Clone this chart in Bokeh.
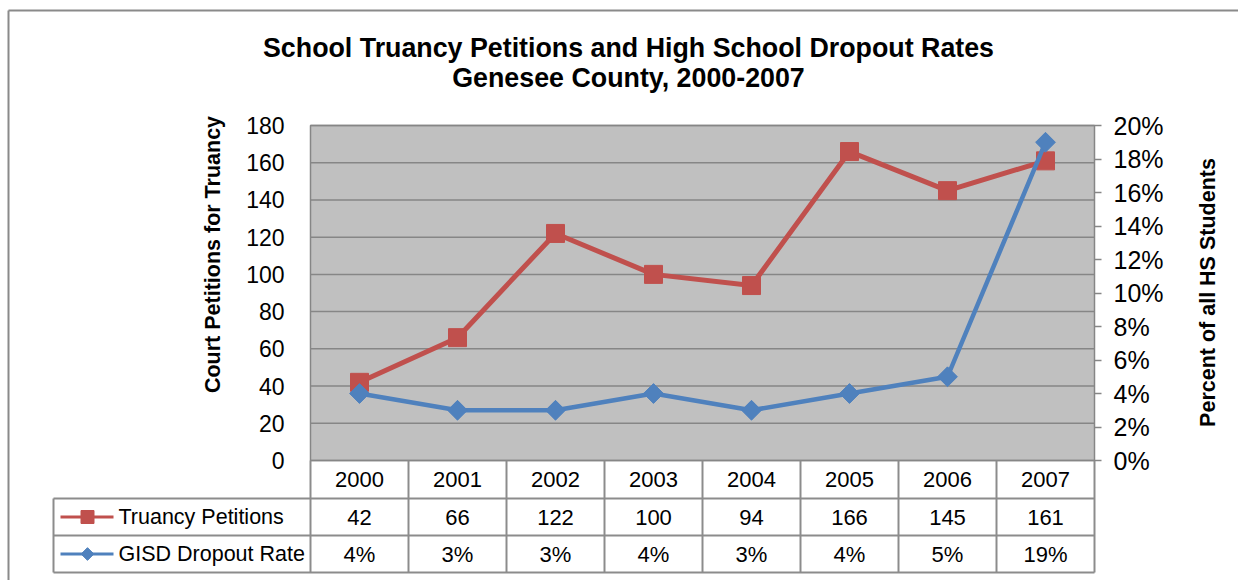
import math
from bokeh.plotting import figure
from bokeh.models import (Range1d, LinearAxis, FixedTicker,
                          NumeralTickFormatter, ColumnDataSource)
from bokeh.embed import file_html
from bokeh.resources import INLINE
from bokeh.core.properties import value

# ---------------- data ----------------
years = ["2000", "2001", "2002", "2003", "2004", "2005", "2006", "2007"]
truancy = [42, 66, 122, 100, 94, 166, 145, 161]
dropout = [0.04, 0.03, 0.03, 0.04, 0.03, 0.04, 0.05, 0.19]
left_ticks = [0, 20, 40, 60, 80, 100, 120, 140, 160, 180]
right_ticks = [0.0, 0.02, 0.04, 0.06, 0.08, 0.10, 0.12, 0.14, 0.16, 0.18, 0.20]
series_names = ["Truancy Petitions", "GISD Dropout Rate"]
title_lines = ["School Truancy Petitions and High School Dropout Rates",
               "Genesee County, 2000-2007"]
left_label = "Court Petitions for Truancy"
right_label = "Percent of all HS Students"

# ---------------- layout / style ----------------
RED = "#C0504D"
BLUE = "#4F81BD"
GRID = "#868686"
TBL = "#8c8c8c"
PLOT_BG = "#C0C0C0"
FONT = "Liberation Sans"
W, H = 1238, 580

n = len(years)
Y_MAX = left_ticks[-1]
PCT_MAX = right_ticks[-1]
COLW = 98.0            # pixel width of one category column
X0 = 310.0             # pixel x of the plot area's left edge
Y0 = 460.0             # pixel y of the value axis zero
YS = 335.0 / Y_MAX     # pixels per left-axis unit


def px(x):
    return (x - X0) / COLW


def py(y):
    return (Y0 - y) / YS


p = figure(width=W, height=H,
           x_range=Range1d(px(0), px(W)), y_range=Range1d(py(H), py(0)),
           x_axis_location=None, y_axis_location="left",
           output_backend="svg", toolbar_location=None,
           min_border_left=0, min_border_right=0,
           min_border_top=0, min_border_bottom=0,
           background_fill_color="white", border_fill_color="white",
           outline_line_color=None)
p.grid.visible = False

# outer chart border (top and left visible)
p.segment(x0=[px(8), px(8)], y0=[py(10), py(10)], x1=[px(W), px(8)], y1=[py(10), py(H)],
          line_color="#8a8a8a", line_width=2)

# plot area background and gridlines
p.quad(left=[0], right=[n], bottom=[0], top=[Y_MAX], fill_color=PLOT_BG,
       line_color=GRID, line_width=1.5)
p.segment(x0=[0] * len(left_ticks), y0=left_ticks, x1=[n] * len(left_ticks), y1=left_ticks,
          line_color=GRID, line_width=1.5)

# left axis
ya = p.yaxis[0]
ya.fixed_location = 0
ya.ticker = FixedTicker(ticks=left_ticks)
ya.axis_line_color = None
ya.major_tick_out = 0
ya.major_tick_in = 0
ya.minor_tick_out = 0
ya.minor_tick_in = 0
ya.major_label_standoff = 26
ya.major_label_text_font = FONT
ya.major_label_text_font_size = "23px"
ya.major_label_text_color = "black"

# right axis (percent)
scale = PCT_MAX / Y_MAX
p.extra_y_ranges = {"pct": Range1d(py(H) * scale, py(0) * scale)}
ra = LinearAxis(y_range_name="pct", ticker=FixedTicker(ticks=right_ticks),
                formatter=NumeralTickFormatter(format="0%"), fixed_location=n)
ra.axis_line_color = None
ra.major_tick_out = 7
ra.major_tick_in = 0
ra.major_tick_line_color = GRID
ra.major_tick_line_width = 1.5
ra.minor_tick_out = 0
ra.minor_tick_in = 0
ra.major_label_standoff = 12
ra.major_label_text_font = FONT
ra.major_label_text_font_size = "25px"
ra.major_label_text_color = "black"
p.add_layout(ra, "right")

# titles and axis titles
p.text(x=[px(628)] * 2, y=[py(47), py(77)], text=title_lines,
       text_align="center", text_baseline="middle", text_font=value(FONT),
       text_font_style="bold", text_font_size="26.8px", text_color="black")
p.text(x=[px(212), px(1207)], y=[py(254), py(292)], text=[left_label, right_label],
       angle=math.pi / 2, text_align="center", text_baseline="middle",
       text_font=value(FONT), text_font_style="bold", text_font_size="21.5px",
       text_color="black")

# series
centers = [i + 0.5 for i in range(n)]
src = ColumnDataSource(dict(x=centers, truancy=truancy))
p.line("x", "truancy", source=src, line_color=RED, line_width=5)
p.scatter("x", "truancy", source=src, marker="square", size=18,
          fill_color=RED, line_color=RED)
src2 = ColumnDataSource(dict(x=centers, dropout=dropout))
p.line("x", "dropout", source=src2, y_range_name="pct",
       line_color=BLUE, line_width=4.5)
p.scatter("x", "dropout", source=src2, y_range_name="pct", marker="square",
          angle=math.pi / 4, size=14, fill_color=BLUE, line_color=BLUE)

# ---------------- data table ----------------
rows_top = [py(460), py(498), py(535), py(572)]
leg_left = px(53)
hx0 = [leg_left, leg_left, leg_left]
hx1 = [n, n, n]
hy = rows_top[1:]
vx = list(range(n + 1)) + [leg_left]
vy0 = [rows_top[3]] * (n + 2)
vy1 = [rows_top[0]] * (n + 1) + [rows_top[1]]
p.segment(x0=hx0 + vx, y0=hy + vy0, x1=hx1 + vx, y1=hy + vy1,
          line_color=TBL, line_width=2)

row_y = [py(479), py(516.5), py(553.5)]
row_texts = [years, [str(v) for v in truancy], [f"{round(v * 100)}%" for v in dropout]]
for r, texts in enumerate(row_texts):
    p.text(x=centers, y=[row_y[r]] * n, text=texts, text_align="center",
           text_baseline="middle", text_font=value(FONT),
           text_font_size="22px", text_color="black")

# legend keys inside the table
p.segment(x0=[px(60)] * 2, y0=row_y[1:], x1=[px(113)] * 2, y1=row_y[1:],
          line_color=[RED, BLUE], line_width=3)
p.scatter(x=[px(87)], y=[row_y[1]], marker="square", size=13,
          fill_color=RED, line_color=RED)
p.scatter(x=[px(87)], y=[row_y[2]], marker="square", angle=math.pi / 4, size=9,
          fill_color=BLUE, line_color=BLUE)
p.text(x=[px(118)] * 2, y=row_y[1:], text=series_names,
       text_align="left", text_baseline="middle", text_font=value(FONT),
       text_font_size="21.5px", text_color="black")

open("out.html", "w").write(file_html(p, INLINE))
